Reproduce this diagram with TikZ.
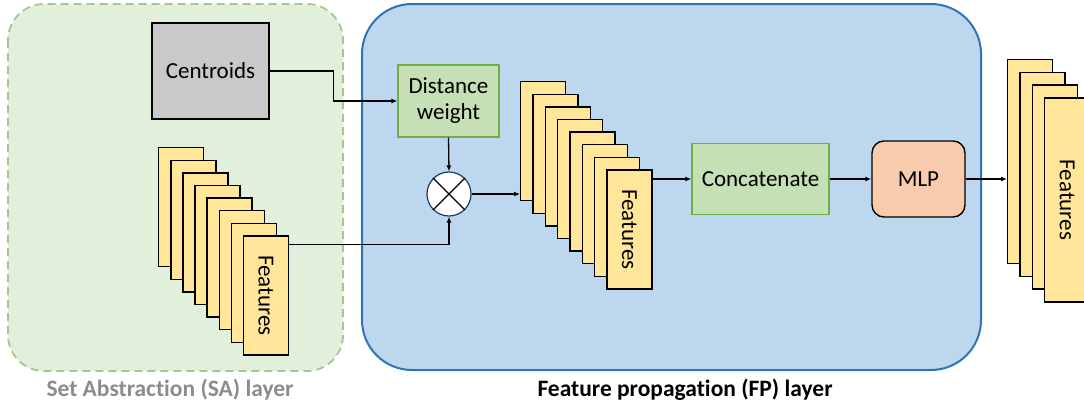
\documentclass[tikz,border=0pt]{standalone}
\usepackage{fontspec}
\setmainfont[Ligatures=NoCommon]{Carlito}
\usetikzlibrary{arrows.meta}
\definecolor{safill}{HTML}{E2EFDA}
\definecolor{sadraw}{HTML}{A9C58E}
\definecolor{fpfill}{HTML}{BDD7EE}
\definecolor{fpdraw}{HTML}{2E75B6}
\definecolor{grayfill}{HTML}{C9C9C9}
\definecolor{gfill}{HTML}{C5E0B4}
\definecolor{gdraw}{HTML}{70AD47}
\definecolor{cardfill}{HTML}{FFE699}
\definecolor{mlpfill}{HTML}{F8CBAD}
\definecolor{labgray}{HTML}{8C8C8C}
\definecolor{navy}{HTML}{1F3864}
\begin{document}
\begin{tikzpicture}[x=1pt,y=-1pt,
  font=\fontsize{23}{28}\selectfont,
  card/.style={draw=black, fill=cardfill, line width=1.4pt, minimum width=45pt, minimum height=#1, inner sep=0pt, anchor=north west},
  card/.default=119pt,
  gbox/.style={draw=gdraw, fill=gfill, line width=1.2pt, inner sep=0pt, align=center},
  arr/.style={line width=1.3pt, -{Latex[length=6pt,width=5pt]}},
  lab/.style={font=\fontsize{23.5}{28}\selectfont\bfseries}]
\useasboundingbox (0,0) rectangle (1084,407);
\clip (0,0) rectangle (1084,407);

% containers
\draw[draw=sadraw, fill=safill, line width=1.8pt, dash pattern=on 8pt off 5pt, rounded corners=36pt] (8,4) rectangle (343,371);
\draw[draw=fpdraw, fill=fpfill, line width=2pt, rounded corners=50pt] (362,4) rectangle (981,370);

% SA layer
\node[draw=black, fill=grayfill, line width=1.4pt, minimum width=117pt, minimum height=96pt, inner sep=0pt] (centroids) at (210.5,71) {Centroids};
\foreach \i in {0,...,7}
  \node[card] (sa\i) at ({158+12.1*\i},{147+12.6*\i}) {};
\node[rotate=-90] at (sa7.center) {Features};

% FP layer
\node[gbox, minimum width=101pt, minimum height=72pt] (dw) at (448.5,101) {Distance\\[-2pt]weight};
\node[circle, draw=navy, fill=white, line width=1.2pt, minimum size=44pt, inner sep=0pt] (mult) at (449,194) {};
\draw[line width=1.2pt] (mult.north west) -- (mult.south east) (mult.north east) -- (mult.south west);
\foreach \i in {0,...,7}
  \node[card] (fp\i) at ({520+12.3*\i},{81+12.6*\i}) {};
\node[rotate=-90] at (fp7.center) {Features};
\node[gbox, minimum width=137pt, minimum height=71pt] (concat) at (760.5,179) {Concatenate};
\node[draw=black, fill=mlpfill, line width=1.4pt, rounded corners=12pt, minimum width=93pt, minimum height=76pt, inner sep=0pt] (mlp) at (918.5,179) {MLP};

% output
\foreach \i in {0,...,3}
  \node[card=204pt] (out\i) at ({1007+12.3*\i},{59+12.7*\i}) {};
\node[rotate=-90] at (out3.center) {Features};

% connectors
\draw[arr] (centroids.east) -- ++(64,0) |- (dw.west);
\draw[arr] ([yshift=-9pt]sa7.north east) -| (mult.south);
\draw[arr] (dw.south) -- (mult.north);
\draw[arr] (mult.east) -- (fp0.west |- mult.east);
\draw[arr] (fp7.east |- concat.west) -- (concat.west);
\draw[arr] (concat.east) -- (mlp.west);
\draw[arr] (mlp.east) -- (out0.west |- mlp.east);

% labels
\node[lab, text=labgray] (salab) at (170,390) {Set Abstraction (SA) layer};
\node[lab, text=black] (fplab) at (685,390) {Feature propagation (FP) layer};
\end{tikzpicture}
\end{document}
